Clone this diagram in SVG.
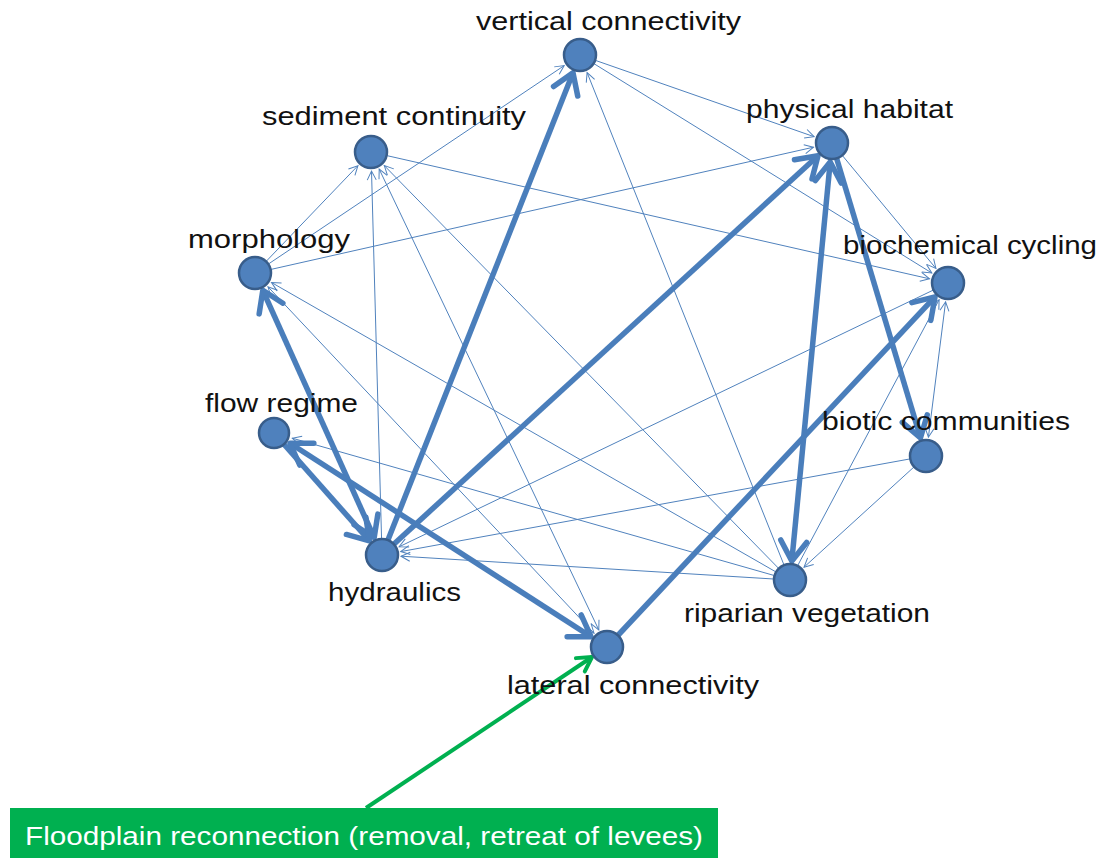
<svg xmlns="http://www.w3.org/2000/svg" width="1102" height="858" viewBox="0 0 1102 858">
<style>
.thin{stroke:#5082bd;stroke-width:1;fill:none;marker-end:url(#at)}
.thinb{stroke:#5082bd;stroke-width:1;fill:none;marker-end:url(#at);marker-start:url(#at)}
.thick{stroke:#4a7ebb;stroke-width:5.5;fill:none;marker-end:url(#ak)}
.thickb{stroke:#4a7ebb;stroke-width:5.5;fill:none;marker-end:url(#ak);marker-start:url(#ak)}
.node{fill:#4f81bd;stroke:#385d8a;stroke-width:2.5}
.lbl{font-family:"Liberation Sans",Arial,sans-serif;font-size:26px;fill:#111}
</style>
<defs>
<marker id="at" viewBox="-11 -6 13 12" refX="0" refY="0" markerWidth="13" markerHeight="12" markerUnits="userSpaceOnUse" orient="auto-start-reverse">
<path d="M-9,-4.5 L0,0 L-9,4.5" fill="none" stroke="#5082bd" stroke-width="1"/>
</marker>
<marker id="ak" viewBox="-26 -18 30 36" refX="0" refY="0" markerWidth="30" markerHeight="36" markerUnits="userSpaceOnUse" orient="auto-start-reverse">
<path d="M-20,-13 L0,0 L-20,13" fill="none" stroke="#4a7ebb" stroke-width="5.5" stroke-linecap="round" stroke-linejoin="round"/>
</marker>
<marker id="ag" viewBox="-20 -14 24 28" refX="0" refY="0" markerWidth="24" markerHeight="28" markerUnits="userSpaceOnUse" orient="auto">
<path d="M-14,-8 L0,0 L-14,8" fill="none" stroke="#00b050" stroke-width="4" stroke-linecap="round" stroke-linejoin="round"/>
</marker>
</defs>
<rect width="1102" height="858" fill="#ffffff"/>
<g id="connectors">
<line class="thin" x1="255" y1="273" x2="564.2" y2="65.6"/>
<line class="thin" x1="255" y1="273" x2="357.9" y2="165.7"/>
<line class="thin" x1="255" y1="273" x2="813.5" y2="147.2"/>
<line class="thin" x1="580" y1="55" x2="814.1" y2="136.7"/>
<line class="thin" x1="580" y1="55" x2="931.8" y2="273"/>
<line class="thin" x1="371" y1="152" x2="929.5" y2="278.8"/>
<line class="thin" x1="832" y1="143" x2="935.9" y2="268.4"/>
<line class="thin" x1="790" y1="580" x2="587.1" y2="72.6"/>
<line class="thin" x1="382" y1="555" x2="371.5" y2="171"/>
<line class="thinb" x1="598.8" y1="629.9" x2="379.2" y2="169.1"/>
<line class="thin" x1="790" y1="580" x2="384.3" y2="165.6"/>
<line class="thin" x1="790" y1="580" x2="271.5" y2="282.5"/>
<line class="thinb" x1="594" y1="633.2" x2="268" y2="286.8"/>
<line class="thin" x1="790" y1="580" x2="292.3" y2="438.2"/>
<line class="thin" x1="948" y1="283" x2="399.1" y2="546.8"/>
<line class="thin" x1="926" y1="456" x2="400.7" y2="551.6"/>
<line class="thin" x1="790" y1="580" x2="401" y2="556.2"/>
<line class="thin" x1="790" y1="580" x2="939.1" y2="299.8"/>
<line class="thinb" x1="945.6" y1="301.8" x2="928.4" y2="437.2"/>
<line class="thin" x1="926" y1="456" x2="804" y2="567.2"/>
<line class="thick" x1="382" y1="555" x2="573" y2="72.7"/>
<line class="thick" x1="382" y1="555" x2="818" y2="155.8"/>
<line class="thickb" x1="262.8" y1="290.3" x2="374.2" y2="537.7"/>
<line class="thick" x1="274" y1="433" x2="369.4" y2="540.8"/>
<line class="thickb" x1="290" y1="443.3" x2="591" y2="636.7"/>
<line class="thick" x1="607" y1="647" x2="935" y2="296.9"/>
<line class="thickb" x1="830.2" y1="161.9" x2="791.8" y2="561.1"/>
<line class="thick" x1="832" y1="143" x2="920.5" y2="437.8"/>
<line x1="366" y1="808" x2="592" y2="657" stroke="#00b050" stroke-width="4" marker-end="url(#ag)"/>
</g>
<g id="n-vertical"><circle class="node" cx="580" cy="55" r="16"/><text class="lbl" x="476" y="30" textLength="265" lengthAdjust="spacingAndGlyphs">vertical connectivity</text></g>
<g id="n-sediment"><circle class="node" cx="371" cy="152" r="16"/><text class="lbl" x="262" y="125" textLength="264" lengthAdjust="spacingAndGlyphs">sediment continuity</text></g>
<g id="n-physical"><circle class="node" cx="832" cy="143" r="16"/><text class="lbl" x="746" y="118" textLength="207" lengthAdjust="spacingAndGlyphs">physical habitat</text></g>
<g id="n-morphology"><circle class="node" cx="255" cy="273" r="16"/><text class="lbl" x="188" y="248" textLength="162" lengthAdjust="spacingAndGlyphs">morphology</text></g>
<g id="n-biochemical"><circle class="node" cx="948" cy="283" r="16"/><text class="lbl" x="843" y="254" textLength="254" lengthAdjust="spacingAndGlyphs">biochemical cycling</text></g>
<g id="n-flow"><circle class="node" cx="274" cy="433" r="15"/><text class="lbl" x="205" y="412" textLength="153" lengthAdjust="spacingAndGlyphs">flow regime</text></g>
<g id="n-biotic"><circle class="node" cx="926" cy="456" r="16"/><text class="lbl" x="822" y="430" textLength="248" lengthAdjust="spacingAndGlyphs">biotic communities</text></g>
<g id="n-hydraulics"><circle class="node" cx="382" cy="555" r="16"/><text class="lbl" x="328" y="601" textLength="133" lengthAdjust="spacingAndGlyphs">hydraulics</text></g>
<g id="n-riparian"><circle class="node" cx="790" cy="580" r="16"/><text class="lbl" x="684" y="622" textLength="246" lengthAdjust="spacingAndGlyphs">riparian vegetation</text></g>
<g id="n-lateral"><circle class="node" cx="607" cy="647" r="16"/><text class="lbl" x="507" y="694" textLength="252" lengthAdjust="spacingAndGlyphs">lateral connectivity</text></g>
<g id="n-floodplain">
<rect x="10" y="808" width="708" height="50" fill="#00b050"/>
<text x="25" y="845" font-family="'Liberation Sans',Arial,sans-serif" font-size="26" fill="#ffffff" textLength="678" lengthAdjust="spacingAndGlyphs">Floodplain reconnection (removal, retreat of levees)</text>
</g>
</svg>
